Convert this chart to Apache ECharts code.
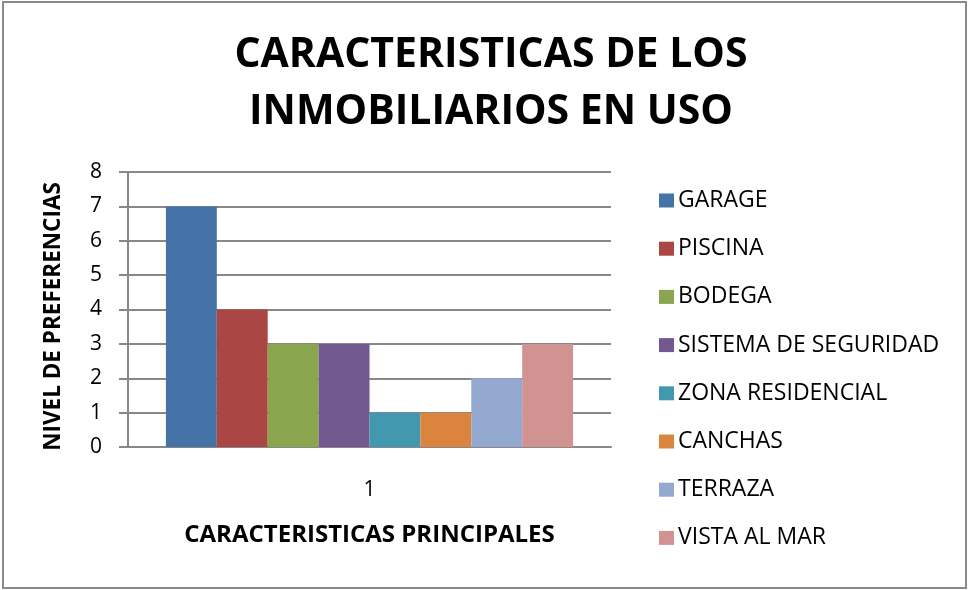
<!DOCTYPE html>
<html>
<head>
<meta charset="utf-8">
<script src="https://cdn.jsdelivr.net/npm/echarts@6/dist/echarts.min.js"></script>
<style>html,body{margin:0;padding:0;background:#fff}#c{width:968px;height:590px}</style>
</head>
<body>
<div id="c"></div>
<script>
var categories = ['1'];
var seriesNames = ['GARAGE','PISCINA','BODEGA','SISTEMA DE SEGURIDAD','ZONA RESIDENCIAL','CANCHAS','TERRAZA','VISTA AL MAR'];
var seriesValues = [7, 4, 3, 3, 1, 1, 2, 3];
var seriesColors = ['#4572A7','#AA4643','#89A54E','#71588F','#4198AF','#DB843D','#93A9CF','#D19392'];
var yTicks = [0,1,2,3,4,5,6,7,8];

var chart = echarts.init(document.getElementById('c'));
var FONT = '"Open Sans", sans-serif';
var series = seriesNames.map(function(n, i){
  return {
    name: n, type: 'bar', data: [seriesValues[i]],
    itemStyle: {color: seriesColors[i]},
    barGap: '0%', barCategoryGap: '15.7%',
    emphasis: {disabled: true}
  };
});
chart.setOption({
  animation: false,
  graphic: [{type:'rect', shape:{x:3,y:2,width:963,height:586}, style:{fill:'none', stroke:'#8a8a8a', lineWidth:2}, silent:true}],
  title: {
    text: 'CARACTERISTICAS DE LOS\nINMOBILIARIOS EN USO',
    left: 486, top: 22, textAlign: 'center',
    textStyle: {fontFamily: FONT, fontWeight: 'bold', fontSize: 41, lineHeight: 57, color: '#000'}
  },
  legend: {
    orient: 'vertical', left: 654, top: 184,
    itemWidth: 15, itemHeight: 14, itemGap: 25.2,
    icon: 'rect',
    textStyle: {fontFamily: FONT, fontSize: 23, color: '#000', lineHeight: 23, padding: [0,0,0,-1]},
    data: seriesNames
  },
  grid: {left: 128, right: 357, top: 172, bottom: 143},
  xAxis: {
    type: 'category', data: categories,
    name: 'CARACTERISTICAS PRINCIPALES', nameLocation: 'middle', nameGap: 76,
    nameTextStyle: {fontFamily: FONT, fontWeight: 'bold', fontSize: 24, color: '#000'},
    axisLine: {lineStyle: {color: '#888', width: 2}},
    axisTick: {show: false},
    axisLabel: {fontFamily: FONT, fontSize: 21, color: '#000', margin: 33}
  },
  yAxis: {
    type: 'value', min: 0, max: 8, interval: 1,
    name: 'NIVEL DE PREFERENCIAS', nameLocation: 'middle', nameGap: 63,
    nameTextStyle: {fontFamily: FONT, fontWeight: 'bold', fontSize: 22.5, color: '#000', padding: [0, 14, 0, 0]},
    axisLine: {show: true, lineStyle: {color: '#888', width: 2}},
    axisTick: {show: true, length: 9, lineStyle: {color: '#888', width: 2}},
    splitLine: {lineStyle: {color: '#888', width: 2}},
    axisLabel: {fontFamily: FONT, fontSize: 21, color: '#000', margin: 26,
      formatter: function(v){ return yTicks.indexOf(v) >= 0 ? String(v) : ''; }}
  },
  series: series
});
</script>
</body>
</html>
